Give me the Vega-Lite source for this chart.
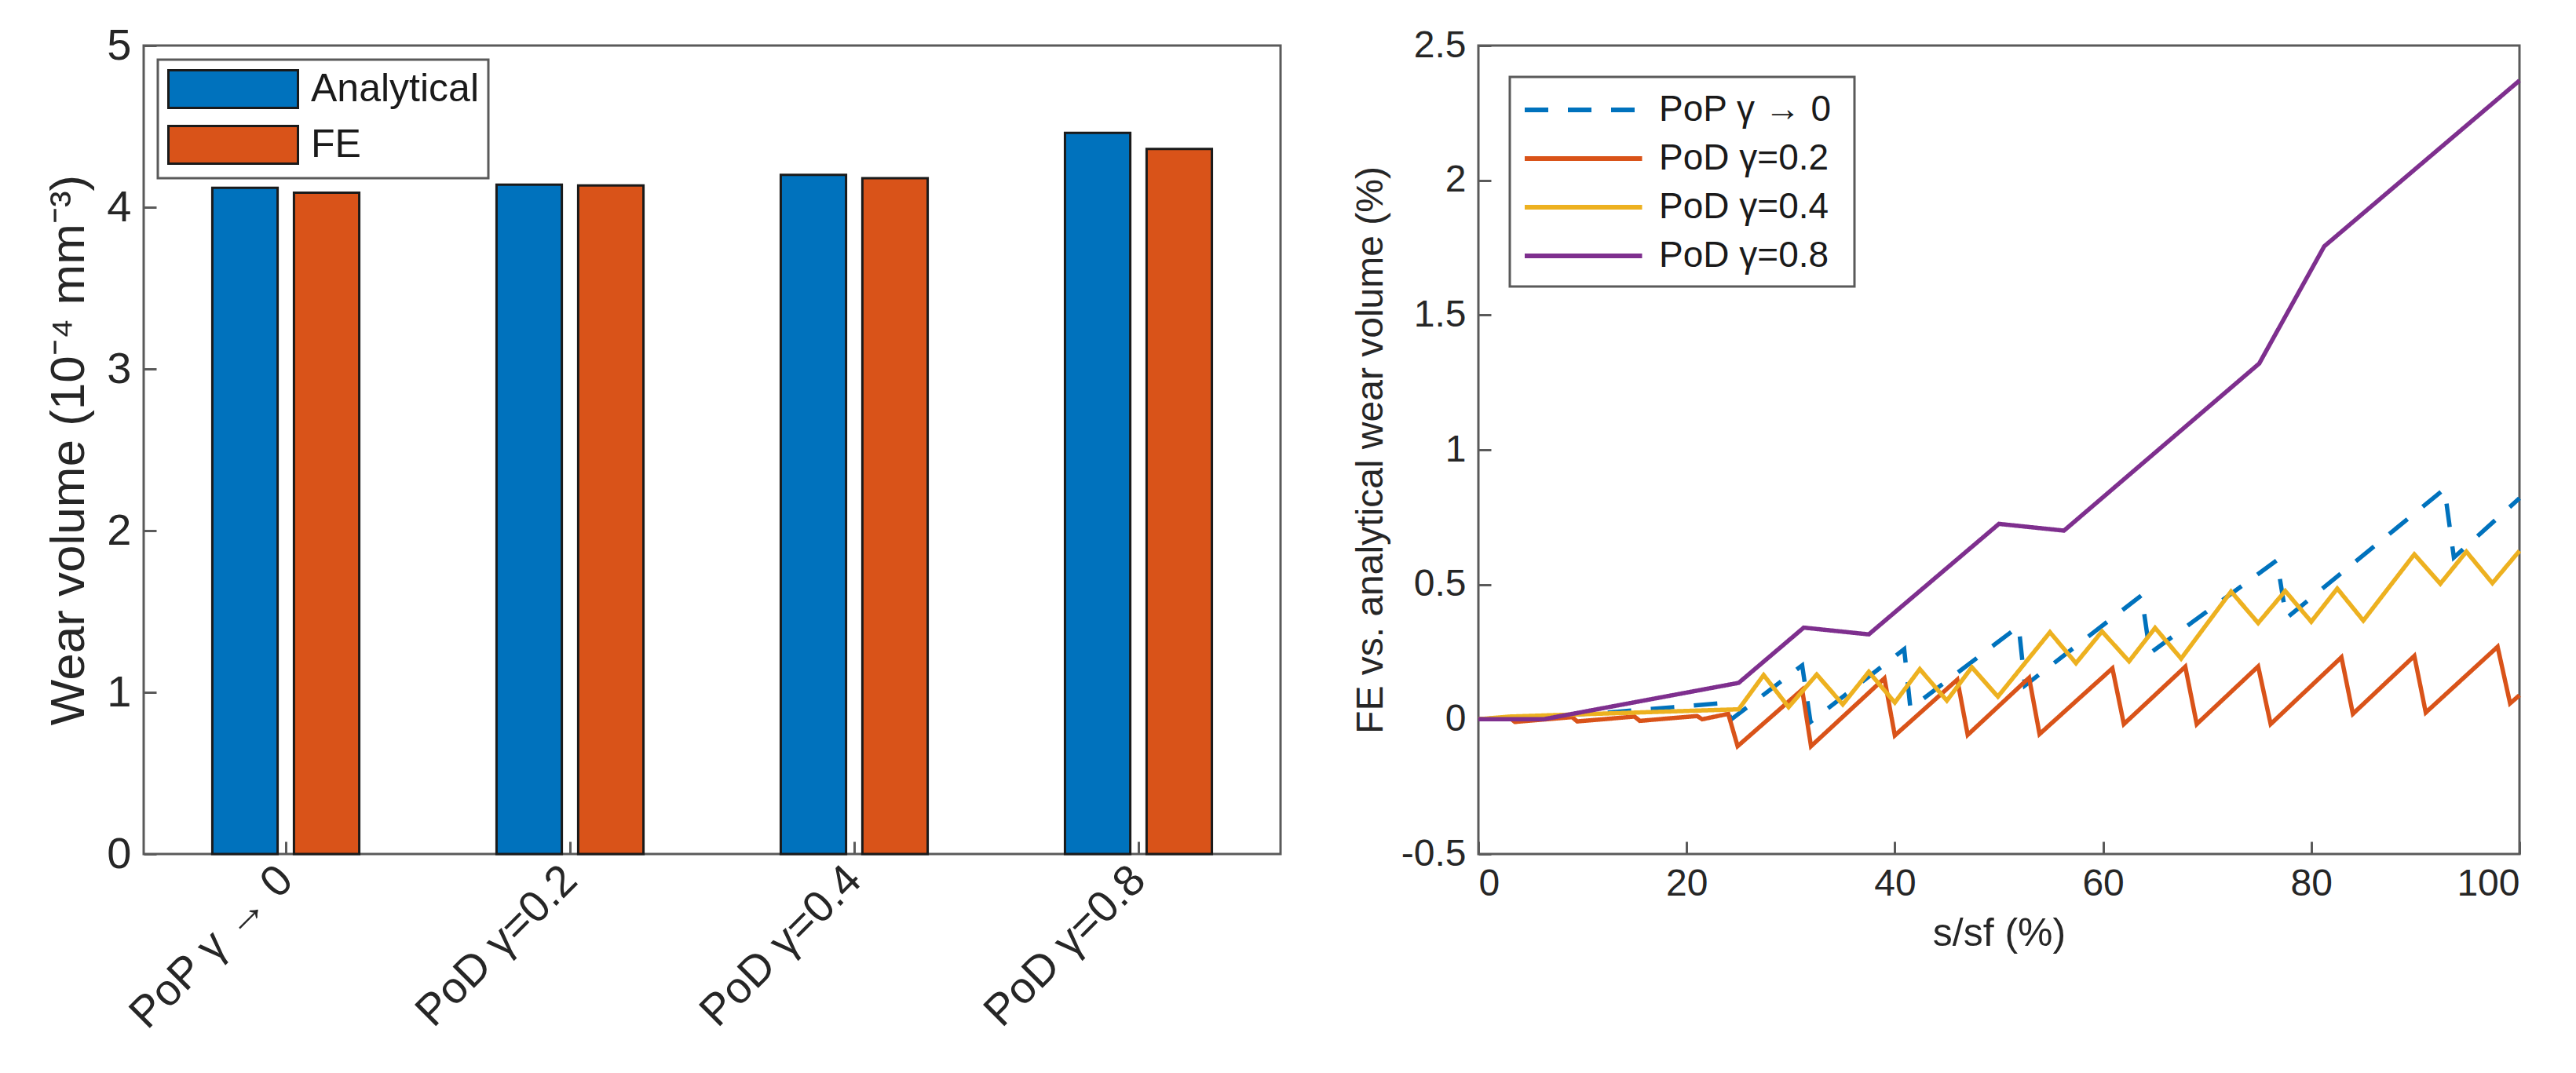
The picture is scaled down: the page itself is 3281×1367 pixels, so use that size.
{
  "$schema": "https://vega.github.io/schema/vega-lite/v6.json",
  "background": "white",
  "padding": {"left": 55, "top": 28, "right": 20, "bottom": 10},
  "spacing": 87,
  "resolve": {"scale": {"color": "independent", "strokeDash": "independent"}, "legend": {"color": "independent"}},
  "config": {
    "font": "Liberation Sans",
    "view": {"stroke": "#5a5a5a", "strokeWidth": 3},
    "axis": {
      "domain": false, "grid": false,
      "tickColor": "#5a5a5a", "tickWidth": 3, "tickSize": -16,
      "labelColor": "#262626", "titleColor": "#262626",
      "titleFontWeight": "normal", "labelPadding": 30, "labelLimit": 0
    },
    "legend": {"labelLimit": 0}
  },
  "hconcat": [
    {
      "width": 1448,
      "height": 1030,
      "data": {"values": [
        {"case": "PoP  γ → 0", "method": "Analytical", "volume": 4.12},
        {"case": "PoP  γ → 0", "method": "FE", "volume": 4.09},
        {"case": "PoD  γ=0.2", "method": "Analytical", "volume": 4.14},
        {"case": "PoD  γ=0.2", "method": "FE", "volume": 4.135},
        {"case": "PoD  γ=0.4", "method": "Analytical", "volume": 4.20},
        {"case": "PoD  γ=0.4", "method": "FE", "volume": 4.18},
        {"case": "PoD  γ=0.8", "method": "Analytical", "volume": 4.46},
        {"case": "PoD  γ=0.8", "method": "FE", "volume": 4.36}
      ]},
      "mark": {"type": "bar", "stroke": "#1a1a1a", "strokeWidth": 3},
      "encoding": {
        "x": {"field": "case", "type": "nominal", "sort": null,
          "scale": {"paddingInner": 0.483, "paddingOuter": 0.2415},
          "axis": {"title": null, "labelAngle": -45, "labelAlign": "right", "labelBaseline": "middle",
            "labelFontSize": 56, "labelPadding": 40}},
        "xOffset": {"field": "method", "type": "nominal", "sort": ["Analytical", "FE"],
          "scale": {"paddingInner": 0.2, "paddingOuter": 0}},
        "y": {"field": "volume", "type": "quantitative",
          "scale": {"domain": [0, 5], "nice": false},
          "axis": {"title": "Wear volume  (10⁻⁴ mm⁻³)", "titleFontSize": 62, "titlePadding": 16,
            "values": [0, 1, 2, 3, 4, 5], "labelFontSize": 56, "labelPadding": 32}},
        "color": {"field": "method", "type": "nominal",
          "scale": {"domain": ["Analytical", "FE"], "range": ["#0072BD", "#D95319"]},
          "legend": {
            "orient": "top-left", "offset": 18, "title": null,
            "fillColor": "white", "strokeColor": "#5a5a5a", "padding": 12,
            "symbolType": "M-1,-1H5.875V1H-1Z", "symbolSize": 2304,
            "symbolStrokeColor": "#1a1a1a", "symbolStrokeWidth": 3,
            "labelFontSize": 50, "labelColor": "#1a1a1a", "labelOffset": 132,
            "rowPadding": 10,
            "encode": {"legend": {"update": {"strokeWidth": {"value": 3}}}}
          }}
      }
    },
    {
      "width": 1326,
      "height": 1030,
      "data": {"values": [
        {"s": 0, "dev": 0, "series": "PoP  γ → 0"},
        {"s": 6.25, "dev": 0.01, "series": "PoP  γ → 0"},
        {"s": 12.5, "dev": 0.025, "series": "PoP  γ → 0"},
        {"s": 18.75, "dev": 0.045, "series": "PoP  γ → 0"},
        {"s": 23.5, "dev": 0.06, "series": "PoP  γ → 0"},
        {"s": 24.3, "dev": 0.0, "series": "PoP  γ → 0"},
        {"s": 31.1, "dev": 0.2, "series": "PoP  γ → 0"},
        {"s": 31.9, "dev": -0.01, "series": "PoP  γ → 0"},
        {"s": 40.9, "dev": 0.26, "series": "PoP  γ → 0"},
        {"s": 41.5, "dev": 0.04, "series": "PoP  γ → 0"},
        {"s": 51.9, "dev": 0.345, "series": "PoP  γ → 0"},
        {"s": 52.5, "dev": 0.125, "series": "PoP  γ → 0"},
        {"s": 63.7, "dev": 0.46, "series": "PoP  γ → 0"},
        {"s": 64.5, "dev": 0.245, "series": "PoP  γ → 0"},
        {"s": 76.7, "dev": 0.59, "series": "PoP  γ → 0"},
        {"s": 77.6, "dev": 0.375, "series": "PoP  γ → 0"},
        {"s": 92.8, "dev": 0.855, "series": "PoP  γ → 0"},
        {"s": 93.7, "dev": 0.6, "series": "PoP  γ → 0"},
        {"s": 100, "dev": 0.82, "series": "PoP  γ → 0"},

        {"s": 0, "dev": 0, "series": "PoD  γ=0.2"},
        {"s": 3, "dev": 0.006, "series": "PoD  γ=0.2"},
        {"s": 3.5, "dev": -0.01, "series": "PoD  γ=0.2"},
        {"s": 9, "dev": 0.008, "series": "PoD  γ=0.2"},
        {"s": 9.5, "dev": -0.008, "series": "PoD  γ=0.2"},
        {"s": 15, "dev": 0.01, "series": "PoD  γ=0.2"},
        {"s": 15.5, "dev": -0.006, "series": "PoD  γ=0.2"},
        {"s": 21, "dev": 0.012, "series": "PoD  γ=0.2"},
        {"s": 21.5, "dev": 0.0, "series": "PoD  γ=0.2"},
        {"s": 24, "dev": 0.02, "series": "PoD  γ=0.2"},
        {"s": 24.9, "dev": -0.1, "series": "PoD  γ=0.2"},
        {"s": 31.1, "dev": 0.11, "series": "PoD  γ=0.2"},
        {"s": 31.95, "dev": -0.1, "series": "PoD  γ=0.2"},
        {"s": 39, "dev": 0.152, "series": "PoD  γ=0.2"},
        {"s": 40, "dev": -0.06, "series": "PoD  γ=0.2"},
        {"s": 46, "dev": 0.147, "series": "PoD  γ=0.2"},
        {"s": 47, "dev": -0.058, "series": "PoD  γ=0.2"},
        {"s": 52.9, "dev": 0.154, "series": "PoD  γ=0.2"},
        {"s": 53.9, "dev": -0.055, "series": "PoD  γ=0.2"},
        {"s": 60.9, "dev": 0.189, "series": "PoD  γ=0.2"},
        {"s": 62, "dev": -0.018, "series": "PoD  γ=0.2"},
        {"s": 67.9, "dev": 0.195, "series": "PoD  γ=0.2"},
        {"s": 69, "dev": -0.018, "series": "PoD  γ=0.2"},
        {"s": 74.9, "dev": 0.196, "series": "PoD  γ=0.2"},
        {"s": 76.1, "dev": -0.018, "series": "PoD  γ=0.2"},
        {"s": 82.9, "dev": 0.23, "series": "PoD  γ=0.2"},
        {"s": 84, "dev": 0.02, "series": "PoD  γ=0.2"},
        {"s": 89.9, "dev": 0.235, "series": "PoD  γ=0.2"},
        {"s": 91, "dev": 0.025, "series": "PoD  γ=0.2"},
        {"s": 97.9, "dev": 0.269, "series": "PoD  γ=0.2"},
        {"s": 99.1, "dev": 0.059, "series": "PoD  γ=0.2"},
        {"s": 100, "dev": 0.089, "series": "PoD  γ=0.2"},

        {"s": 0, "dev": 0, "series": "PoD  γ=0.4"},
        {"s": 3, "dev": 0.01, "series": "PoD  γ=0.4"},
        {"s": 25, "dev": 0.037, "series": "PoD  γ=0.4"},
        {"s": 27.4, "dev": 0.164, "series": "PoD  γ=0.4"},
        {"s": 29.8, "dev": 0.045, "series": "PoD  γ=0.4"},
        {"s": 32.5, "dev": 0.166, "series": "PoD  γ=0.4"},
        {"s": 35, "dev": 0.055, "series": "PoD  γ=0.4"},
        {"s": 37.5, "dev": 0.176, "series": "PoD  γ=0.4"},
        {"s": 40, "dev": 0.062, "series": "PoD  γ=0.4"},
        {"s": 42.4, "dev": 0.186, "series": "PoD  γ=0.4"},
        {"s": 45, "dev": 0.069, "series": "PoD  γ=0.4"},
        {"s": 47.4, "dev": 0.193, "series": "PoD  γ=0.4"},
        {"s": 49.9, "dev": 0.084, "series": "PoD  γ=0.4"},
        {"s": 54.9, "dev": 0.323, "series": "PoD  γ=0.4"},
        {"s": 57.4, "dev": 0.208, "series": "PoD  γ=0.4"},
        {"s": 59.9, "dev": 0.326, "series": "PoD  γ=0.4"},
        {"s": 62.5, "dev": 0.215, "series": "PoD  γ=0.4"},
        {"s": 65, "dev": 0.339, "series": "PoD  γ=0.4"},
        {"s": 67.5, "dev": 0.225, "series": "PoD  γ=0.4"},
        {"s": 72.3, "dev": 0.474, "series": "PoD  γ=0.4"},
        {"s": 74.9, "dev": 0.357, "series": "PoD  γ=0.4"},
        {"s": 77.5, "dev": 0.476, "series": "PoD  γ=0.4"},
        {"s": 80, "dev": 0.362, "series": "PoD  γ=0.4"},
        {"s": 82.5, "dev": 0.485, "series": "PoD  γ=0.4"},
        {"s": 85, "dev": 0.366, "series": "PoD  γ=0.4"},
        {"s": 89.9, "dev": 0.612, "series": "PoD  γ=0.4"},
        {"s": 92.4, "dev": 0.503, "series": "PoD  γ=0.4"},
        {"s": 94.9, "dev": 0.622, "series": "PoD  γ=0.4"},
        {"s": 97.4, "dev": 0.505, "series": "PoD  γ=0.4"},
        {"s": 100, "dev": 0.625, "series": "PoD  γ=0.4"},

        {"s": 0, "dev": 0, "series": "PoD  γ=0.8"},
        {"s": 6.25, "dev": 0, "series": "PoD  γ=0.8"},
        {"s": 25, "dev": 0.135, "series": "PoD  γ=0.8"},
        {"s": 31.25, "dev": 0.34, "series": "PoD  γ=0.8"},
        {"s": 37.5, "dev": 0.315, "series": "PoD  γ=0.8"},
        {"s": 50, "dev": 0.725, "series": "PoD  γ=0.8"},
        {"s": 56.25, "dev": 0.7, "series": "PoD  γ=0.8"},
        {"s": 75, "dev": 1.32, "series": "PoD  γ=0.8"},
        {"s": 81.25, "dev": 1.755, "series": "PoD  γ=0.8"},
        {"s": 100, "dev": 2.37, "series": "PoD  γ=0.8"}
      ]},
      "mark": {"type": "line", "strokeWidth": 5.5},
      "encoding": {
        "x": {"field": "s", "type": "quantitative",
          "scale": {"domain": [0, 100], "nice": false},
          "axis": {"title": "s/sf  (%)", "titleFontSize": 50, "titlePadding": 14,
            "values": [0, 20, 40, 60, 80, 100], "labelFontSize": 48, "labelPadding": 30}},
        "y": {"field": "dev", "type": "quantitative",
          "scale": {"domain": [-0.5, 2.5], "nice": false},
          "axis": {"title": "FE vs. analytical wear volume (%)", "titleFontSize": 48, "titlePadding": 14,
            "values": [-0.5, 0, 0.5, 1, 1.5, 2, 2.5], "labelFontSize": 48, "labelPadding": 32,
            "labelExpr": "datum.value < 0 ? '-' + format(-datum.value, '.1~f') : format(datum.value, '.1~f')"}},
        "color": {"field": "series", "type": "nominal",
          "scale": {"domain": ["PoP  γ → 0", "PoD  γ=0.2", "PoD  γ=0.4", "PoD  γ=0.8"],
            "range": ["#0072BD", "#D95319", "#EDB120", "#7E2F8E"]},
          "legend": {
            "orient": "top-left", "offset": 40, "title": null,
            "fillColor": "white", "strokeColor": "#5a5a5a", "padding": 16,
            "symbolType": "M-1,0H5.5", "symbolSize": 2116, "symbolStrokeWidth": 6,
            "labelFontSize": 46, "labelColor": "#1a1a1a", "labelOffset": 122,
            "rowPadding": 13,
            "encode": {"legend": {"update": {"strokeWidth": {"value": 3}}}}
          }},
        "strokeDash": {"field": "series", "type": "nominal",
          "scale": {"domain": ["PoP  γ → 0", "PoD  γ=0.2", "PoD  γ=0.4", "PoD  γ=0.8"],
            "range": [[30, 25], [1, 0], [1, 0], [1, 0]]},
          "legend": null}
      }
    }
  ]
}
